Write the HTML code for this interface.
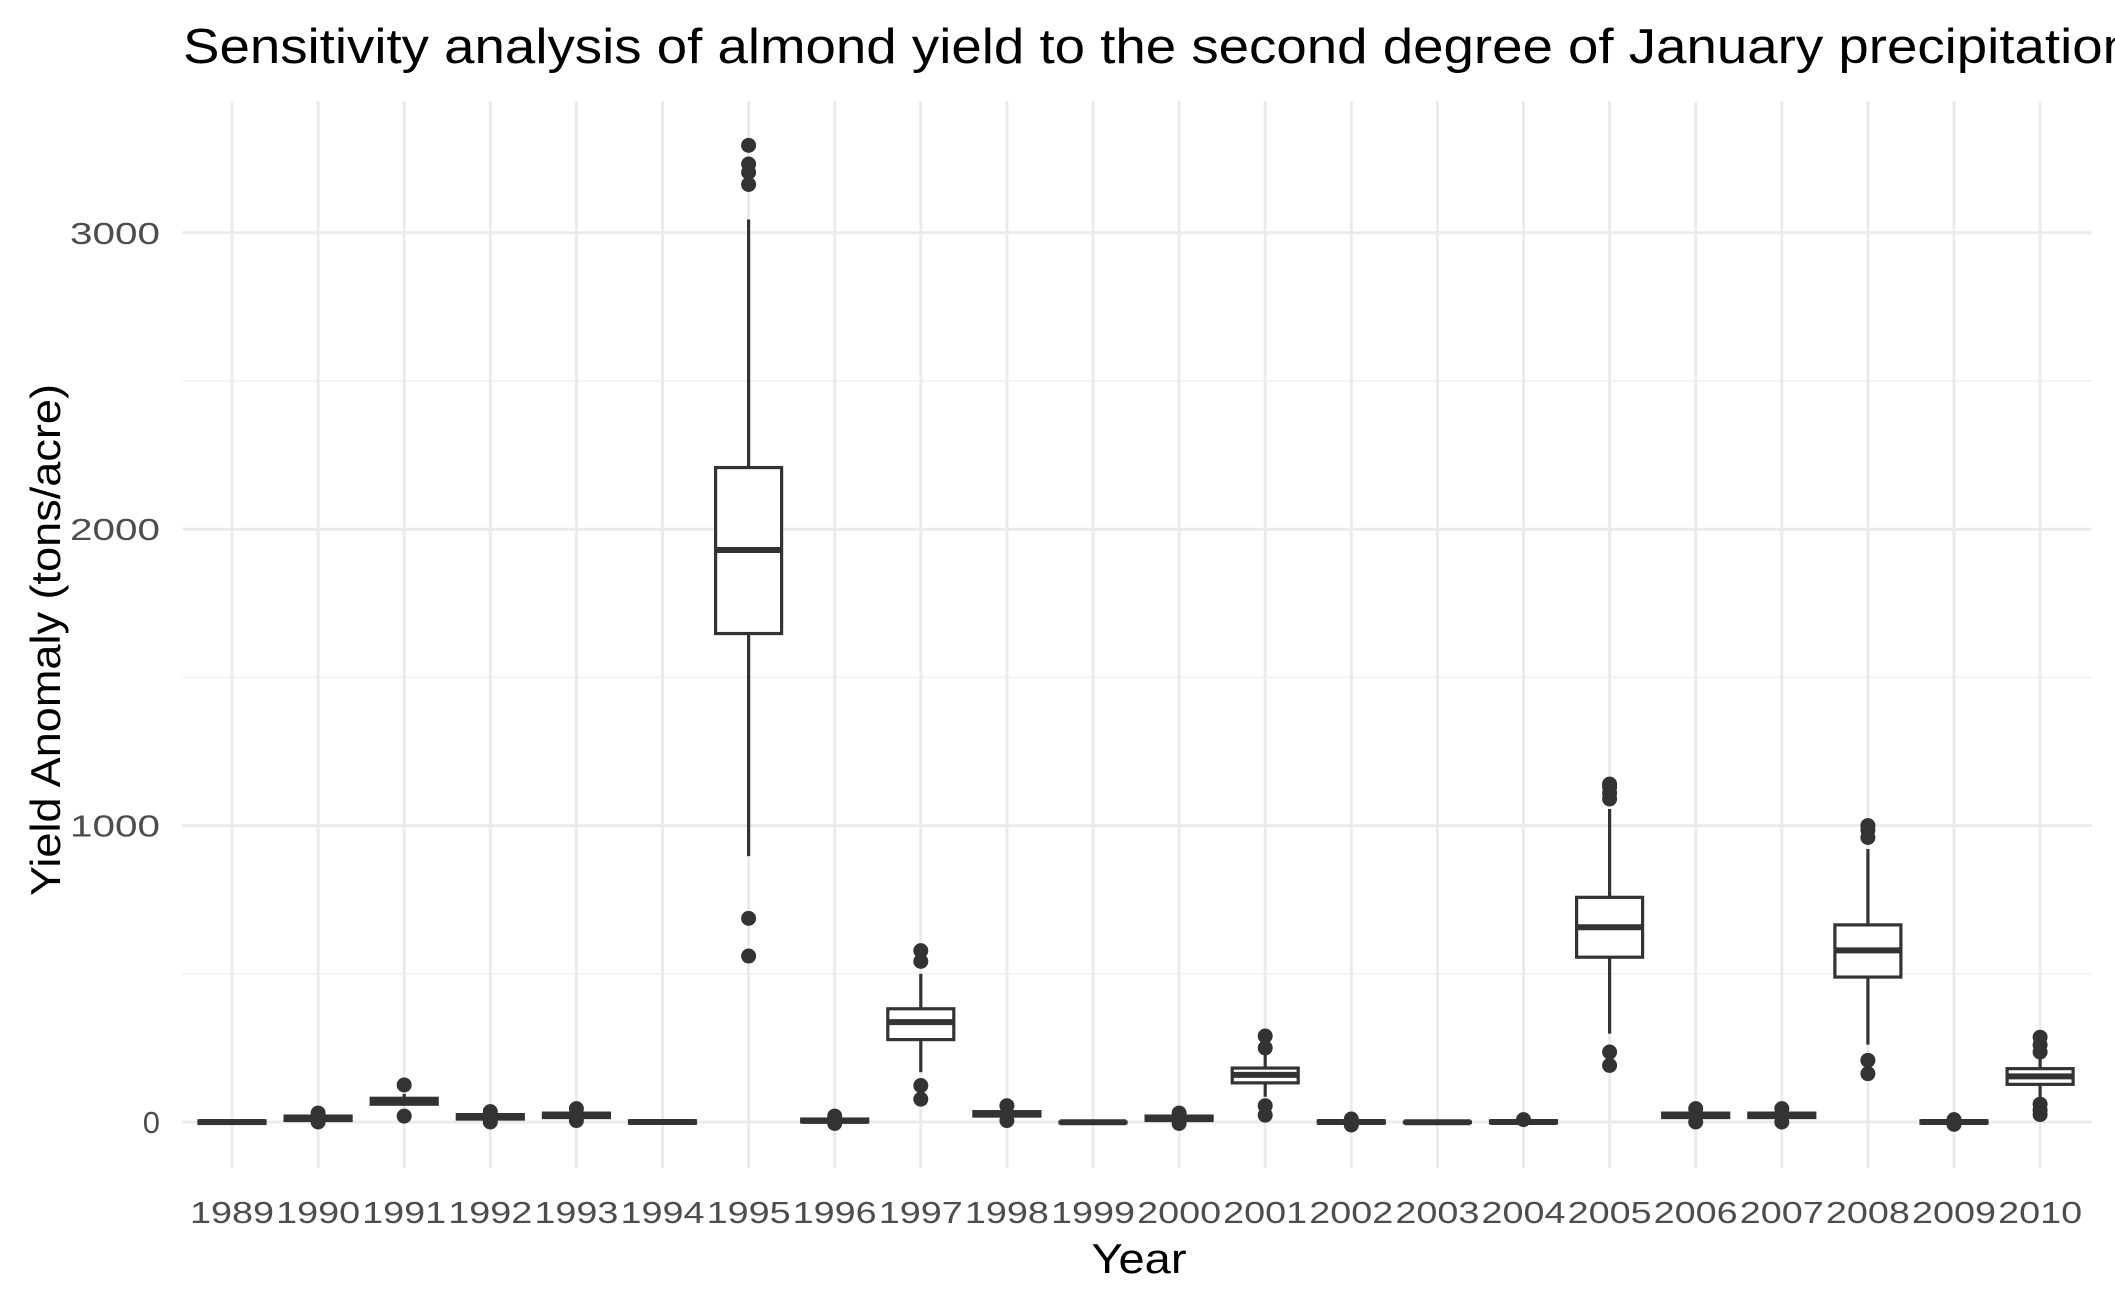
<!DOCTYPE html>
<html><head><meta charset="utf-8"><style>
html,body{margin:0;padding:0;background:#fff;overflow:hidden;}
svg{display:block;font-family:"Liberation Sans",sans-serif;}
</style></head><body>
<svg id="chart" width="2115" height="1306" viewBox="0 0 2115 1306">
<text x="183" y="63" font-size="49" textLength="1950" lengthAdjust="spacingAndGlyphs" fill="#000">Sensitivity analysis of almond yield to the second degree of January precipitation</text>
<g id="grid"></g>
<g id="boxes"></g>
<g id="axes"></g>
<text x="1139" y="1273" font-size="42" textLength="95" lengthAdjust="spacingAndGlyphs" text-anchor="middle" fill="#000">Year</text>
<text transform="translate(60,640) rotate(-90)" font-size="42" textLength="512" lengthAdjust="spacingAndGlyphs" text-anchor="middle" fill="#000">Yield Anomaly (tons/acre)</text>
</svg>
<script>
const years=["1989","1990","1991","1992","1993","1994","1995","1996","1997","1998","1999","2000","2001","2002","2003","2004","2005","2006","2007","2008","2009","2010"];
const whiskLo=[-10,0,55,5,10,-8,897,-5,168,10,-6,0,85,-8,-4,-6,298,5,5,261,-7,80];
const q1=[-5,5,60,10,15,-4,1648,0,278,20,-3,5,132,-4,-2,-3,556,15,15,489,-4,127];
const med=[0,10,70,18,22,0,1930,4,337,27,-1,12,159,0,-1,0,657,22,22,579,0,154];
const q3=[4,20,80,25,30,4,2208,10,382,35,0,20,182,4,0,4,758,30,30,665,4,180];
const whiskHi=[8,25,95,30,38,8,3045,15,500,45,2,25,230,8,2,8,1056,38,38,921,8,225];
const outliers=[[],[30,0],[125,20],[35,0],[45,5],[],[3295,3232,3204,3163,687,560],[20,-5],[578,542,123,77],[55,5],[],[30,-5],[290,250,55,23],[10,-10],[],[8],[1140,1130,1110,1090,236,191],[45,0],[45,0],[1000,985,960,208,163],[8,-8],[286,260,236,60,40,25]];
const yTicks=[0,1000,2000,3000];
const yMinor=[500,1500,2500];

const NS="http://www.w3.org/2000/svg";
const panel={l:182,r:2092,t:101,b:1168};
const x0=232,dx=86.1;
function xs(i){return x0+i*dx;}
function ys(v){return 1122 - v*0.2964;}
function mk(tag,attrs,parent){const e=document.createElementNS(NS,tag);for(const k in attrs)e.setAttribute(k,attrs[k]);parent.appendChild(e);return e;}
const grid=document.getElementById('grid'),boxes=document.getElementById('boxes'),axes=document.getElementById('axes');
yMinor.forEach(v=>{const l=mk('line',{x1:panel.l,x2:panel.r,y1:ys(v),y2:ys(v),stroke:'#f0f0f0','stroke-width':1.5},grid);

});
yTicks.forEach(v=>{const l=mk('line',{x1:panel.l,x2:panel.r,y1:ys(v),y2:ys(v),stroke:'#ebebeb','stroke-width':3},grid);


const t=mk('text',{x:160,y:ys(v)+11,'font-size':31,'text-anchor':'end',fill:'#4d4d4d'},axes);t.textContent=v;
if(String(v).length===4){t.setAttribute('textLength',90);t.setAttribute('lengthAdjust','spacingAndGlyphs');}

});
years.forEach((yr,i)=>{const x=xs(i);
const l=mk('line',{x1:x,x2:x,y1:panel.t,y2:panel.b,stroke:'#ebebeb','stroke-width':3},grid);


const t=mk('text',{x:x,y:1223,'font-size':31,'text-anchor':'middle',fill:'#4d4d4d',textLength:84,lengthAdjust:'spacingAndGlyphs'},axes);t.textContent=yr;


const g=mk('g',{},boxes);


const hw=33,st='#333333';
mk('line',{x1:x,x2:x,y1:ys(q3[i]),y2:ys(whiskHi[i]),stroke:st,'stroke-width':3.2},g);
mk('line',{x1:x,x2:x,y1:ys(q1[i]),y2:ys(whiskLo[i]),stroke:st,'stroke-width':3.2},g);
const h=Math.max(ys(q1[i])-ys(q3[i]),0.5);
mk('rect',{x:x-hw,y:ys(q3[i]),width:2*hw,height:h,fill:'#fff',stroke:st,'stroke-width':3.2},g);
mk('line',{x1:x-hw,x2:x+hw,y1:ys(med[i]),y2:ys(med[i]),stroke:st,'stroke-width':6},g);
outliers[i].forEach(o=>{const c=mk('circle',{cx:x,cy:ys(o),r:7.5,fill:st},g);

});
});
</script>
</body></html>
